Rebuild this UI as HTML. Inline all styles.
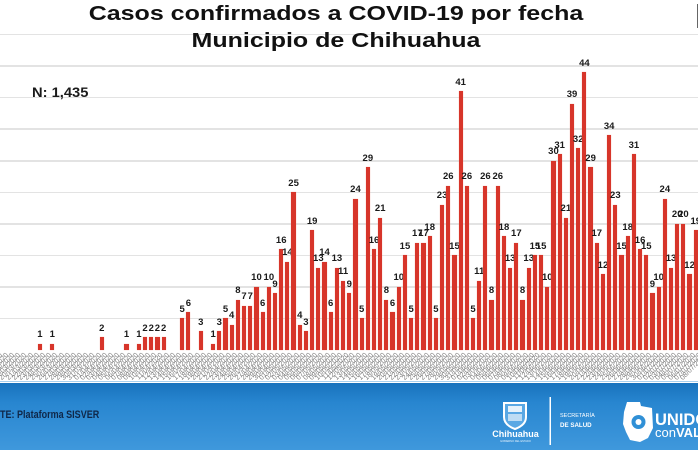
<!DOCTYPE html>
<html><head><meta charset="utf-8">
<style>
html,body{margin:0;padding:0}
body{width:698px;height:450px;overflow:hidden;background:#fff;position:relative;font-family:"Liberation Sans",sans-serif}
.grid{position:absolute;left:0;width:698px;height:1.5px;background:#e3e3e3}
.t{position:absolute;left:0;width:672px;text-align:center;font:bold 20px/20px "Liberation Sans",sans-serif;color:#111;transform:scaleX(1.25);transform-origin:336px 0;white-space:nowrap}
.n{position:absolute;left:31.7px;top:85px;font:bold 14px/14px "Liberation Sans",sans-serif;color:#1a1a1a;transform:scaleX(1.05);transform-origin:0 0;white-space:nowrap}
.bars{position:absolute;left:-6.53px;top:0;height:350px;display:flex;align-items:flex-end}
.c{position:relative;flex:0 0 6.19px;width:6.19px;height:calc(var(--v)*6.31px)}
.c::before{content:"";position:absolute;left:1px;width:4.2px;top:0;bottom:0;background:#d7352a;box-shadow:0 0 0.8px #f09c92}
.c b{position:absolute;bottom:calc(100% + 4px);left:50%;transform:translateX(-50%);font:bold 9.5px/1 "Liberation Sans",sans-serif;color:#1a1a1a;white-space:nowrap}
.c i{position:absolute;top:calc(100% + 2px);right:1px;transform-origin:100% 0;transform:rotate(-45deg);font:normal 7px/1 "Liberation Sans",sans-serif;color:#7a7a7a;font-style:normal;white-space:nowrap}
.foot{position:absolute;left:0;top:383px;width:698px;height:67px;background:linear-gradient(180deg,#1872bd 0%,#2886d0 30%,#3f98dc 100%)}
.fline{position:absolute;left:0;top:380.5px;width:698px;height:1.5px;background:#a9d0ee}
.src{position:absolute;left:0;top:410px;font:bold 11px/11px "Liberation Sans",sans-serif;color:#0f2748;transform:scaleX(0.82);transform-origin:0 0;white-space:nowrap}
</style></head><body>
<div class="grid" style="top:33.8px"></div>
<div class="grid" style="top:65.3px"></div>
<div class="grid" style="top:96.9px"></div>
<div class="grid" style="top:128.4px"></div>
<div class="grid" style="top:160px"></div>
<div class="grid" style="top:191.5px"></div>
<div class="grid" style="top:223.1px"></div>
<div class="grid" style="top:254.6px"></div>
<div class="grid" style="top:286.2px"></div>
<div class="grid" style="top:317.7px"></div>

<div class="t" style="top:4px">Casos confirmados a COVID-19 por fecha</div>
<div class="t" style="top:31px">Municipio de Chihuahua</div>
<div class="n">N: 1,435</div>
<div style="position:absolute;left:696.5px;top:4px;width:1.5px;height:24px;background:#666"></div>

<div class="bars">
<div class="c" style="--v:0"><i>16/03/2020</i></div>
<div class="c" style="--v:0"><i>17/03/2020</i></div>
<div class="c" style="--v:0"><i>18/03/2020</i></div>
<div class="c" style="--v:0"><i>19/03/2020</i></div>
<div class="c" style="--v:0"><i>20/03/2020</i></div>
<div class="c" style="--v:0"><i>21/03/2020</i></div>
<div class="c" style="--v:0"><i>22/03/2020</i></div>
<div class="c" style="--v:1"><b>1</b><i>23/03/2020</i></div>
<div class="c" style="--v:0"><i>24/03/2020</i></div>
<div class="c" style="--v:1"><b>1</b><i>25/03/2020</i></div>
<div class="c" style="--v:0"><i>26/03/2020</i></div>
<div class="c" style="--v:0"><i>27/03/2020</i></div>
<div class="c" style="--v:0"><i>28/03/2020</i></div>
<div class="c" style="--v:0"><i>29/03/2020</i></div>
<div class="c" style="--v:0"><i>30/03/2020</i></div>
<div class="c" style="--v:0"><i>31/03/2020</i></div>
<div class="c" style="--v:0"><i>01/04/2020</i></div>
<div class="c" style="--v:2"><b>2</b><i>02/04/2020</i></div>
<div class="c" style="--v:0"><i>03/04/2020</i></div>
<div class="c" style="--v:0"><i>04/04/2020</i></div>
<div class="c" style="--v:0"><i>05/04/2020</i></div>
<div class="c" style="--v:1"><b>1</b><i>06/04/2020</i></div>
<div class="c" style="--v:0"><i>07/04/2020</i></div>
<div class="c" style="--v:1"><b>1</b><i>08/04/2020</i></div>
<div class="c" style="--v:2"><b>2</b><i>09/04/2020</i></div>
<div class="c" style="--v:2"><b>2</b><i>10/04/2020</i></div>
<div class="c" style="--v:2"><b>2</b><i>11/04/2020</i></div>
<div class="c" style="--v:2"><b>2</b><i>12/04/2020</i></div>
<div class="c" style="--v:0"><i>13/04/2020</i></div>
<div class="c" style="--v:0"><i>14/04/2020</i></div>
<div class="c" style="--v:5"><b>5</b><i>15/04/2020</i></div>
<div class="c" style="--v:6"><b>6</b><i>16/04/2020</i></div>
<div class="c" style="--v:0"><i>17/04/2020</i></div>
<div class="c" style="--v:3"><b>3</b><i>18/04/2020</i></div>
<div class="c" style="--v:0"><i>19/04/2020</i></div>
<div class="c" style="--v:1"><b>1</b><i>20/04/2020</i></div>
<div class="c" style="--v:3"><b>3</b><i>21/04/2020</i></div>
<div class="c" style="--v:5"><b>5</b><i>22/04/2020</i></div>
<div class="c" style="--v:4"><b>4</b><i>23/04/2020</i></div>
<div class="c" style="--v:8"><b>8</b><i>24/04/2020</i></div>
<div class="c" style="--v:7"><b>7</b><i>25/04/2020</i></div>
<div class="c" style="--v:7"><b>7</b><i>26/04/2020</i></div>
<div class="c" style="--v:10"><b>10</b><i>27/04/2020</i></div>
<div class="c" style="--v:6"><b>6</b><i>28/04/2020</i></div>
<div class="c" style="--v:10"><b>10</b><i>29/04/2020</i></div>
<div class="c" style="--v:9"><b>9</b><i>30/04/2020</i></div>
<div class="c" style="--v:16"><b>16</b><i>01/05/2020</i></div>
<div class="c" style="--v:14"><b>14</b><i>02/05/2020</i></div>
<div class="c" style="--v:25"><b>25</b><i>03/05/2020</i></div>
<div class="c" style="--v:4"><b>4</b><i>04/05/2020</i></div>
<div class="c" style="--v:3"><b>3</b><i>05/05/2020</i></div>
<div class="c" style="--v:19"><b>19</b><i>06/05/2020</i></div>
<div class="c" style="--v:13"><b>13</b><i>07/05/2020</i></div>
<div class="c" style="--v:14"><b>14</b><i>08/05/2020</i></div>
<div class="c" style="--v:6"><b>6</b><i>09/05/2020</i></div>
<div class="c" style="--v:13"><b>13</b><i>10/05/2020</i></div>
<div class="c" style="--v:11"><b>11</b><i>11/05/2020</i></div>
<div class="c" style="--v:9"><b>9</b><i>12/05/2020</i></div>
<div class="c" style="--v:24"><b>24</b><i>13/05/2020</i></div>
<div class="c" style="--v:5"><b>5</b><i>14/05/2020</i></div>
<div class="c" style="--v:29"><b>29</b><i>15/05/2020</i></div>
<div class="c" style="--v:16"><b>16</b><i>16/05/2020</i></div>
<div class="c" style="--v:21"><b>21</b><i>17/05/2020</i></div>
<div class="c" style="--v:8"><b>8</b><i>18/05/2020</i></div>
<div class="c" style="--v:6"><b>6</b><i>19/05/2020</i></div>
<div class="c" style="--v:10"><b>10</b><i>20/05/2020</i></div>
<div class="c" style="--v:15"><b>15</b><i>21/05/2020</i></div>
<div class="c" style="--v:5"><b>5</b><i>22/05/2020</i></div>
<div class="c" style="--v:17"><b>17</b><i>23/05/2020</i></div>
<div class="c" style="--v:17"><b>17</b><i>24/05/2020</i></div>
<div class="c" style="--v:18"><b>18</b><i>25/05/2020</i></div>
<div class="c" style="--v:5"><b>5</b><i>26/05/2020</i></div>
<div class="c" style="--v:23"><b>23</b><i>27/05/2020</i></div>
<div class="c" style="--v:26"><b>26</b><i>28/05/2020</i></div>
<div class="c" style="--v:15"><b>15</b><i>29/05/2020</i></div>
<div class="c" style="--v:41"><b>41</b><i>30/05/2020</i></div>
<div class="c" style="--v:26"><b>26</b><i>31/05/2020</i></div>
<div class="c" style="--v:5"><b>5</b><i>01/06/2020</i></div>
<div class="c" style="--v:11"><b>11</b><i>02/06/2020</i></div>
<div class="c" style="--v:26"><b>26</b><i>03/06/2020</i></div>
<div class="c" style="--v:8"><b>8</b><i>04/06/2020</i></div>
<div class="c" style="--v:26"><b>26</b><i>05/06/2020</i></div>
<div class="c" style="--v:18"><b>18</b><i>06/06/2020</i></div>
<div class="c" style="--v:13"><b>13</b><i>07/06/2020</i></div>
<div class="c" style="--v:17"><b>17</b><i>08/06/2020</i></div>
<div class="c" style="--v:8"><b>8</b><i>09/06/2020</i></div>
<div class="c" style="--v:13"><b>13</b><i>10/06/2020</i></div>
<div class="c" style="--v:15"><b>15</b><i>11/06/2020</i></div>
<div class="c" style="--v:15"><b>15</b><i>12/06/2020</i></div>
<div class="c" style="--v:10"><b>10</b><i>13/06/2020</i></div>
<div class="c" style="--v:30"><b>30</b><i>14/06/2020</i></div>
<div class="c" style="--v:31"><b>31</b><i>15/06/2020</i></div>
<div class="c" style="--v:21"><b>21</b><i>16/06/2020</i></div>
<div class="c" style="--v:39"><b>39</b><i>17/06/2020</i></div>
<div class="c" style="--v:32"><b>32</b><i>18/06/2020</i></div>
<div class="c" style="--v:44"><b>44</b><i>19/06/2020</i></div>
<div class="c" style="--v:29"><b>29</b><i>20/06/2020</i></div>
<div class="c" style="--v:17"><b>17</b><i>21/06/2020</i></div>
<div class="c" style="--v:12"><b>12</b><i>22/06/2020</i></div>
<div class="c" style="--v:34"><b>34</b><i>23/06/2020</i></div>
<div class="c" style="--v:23"><b>23</b><i>24/06/2020</i></div>
<div class="c" style="--v:15"><b>15</b><i>25/06/2020</i></div>
<div class="c" style="--v:18"><b>18</b><i>26/06/2020</i></div>
<div class="c" style="--v:31"><b>31</b><i>27/06/2020</i></div>
<div class="c" style="--v:16"><b>16</b><i>28/06/2020</i></div>
<div class="c" style="--v:15"><b>15</b><i>29/06/2020</i></div>
<div class="c" style="--v:9"><b>9</b><i>30/06/2020</i></div>
<div class="c" style="--v:10"><b>10</b><i>01/07/2020</i></div>
<div class="c" style="--v:24"><b>24</b><i>02/07/2020</i></div>
<div class="c" style="--v:13"><b>13</b><i>03/07/2020</i></div>
<div class="c" style="--v:20"><b>20</b><i>04/07/2020</i></div>
<div class="c" style="--v:20"><b>20</b><i>05/07/2020</i></div>
<div class="c" style="--v:12"><b>12</b><i>06/07/2020</i></div>
<div class="c" style="--v:19"><b>19</b><i>07/07/2020</i></div>
<div class="c" style="--v:0"><i>08/07/2020</i></div>
</div>

<div class="fline"></div>
<div class="foot"></div>
<div class="src">TE: Plataforma SISVER</div>

<svg style="position:absolute;left:0;top:0" width="698" height="450" viewBox="0 0 698 450">
  <path d="M504 403 L526 403 L526 417 Q526 425 515 429 Q504 425 504 417 Z" fill="#5aa8e4" stroke="#fff" stroke-width="2"/>
  <rect x="508" y="406" width="14" height="6" fill="#fff" opacity="0.85"/>
  <rect x="508" y="414" width="14" height="7" fill="#fff" opacity="0.6"/>
  <text x="515.5" y="437" text-anchor="middle" font-family="Liberation Sans, sans-serif" font-weight="bold" font-size="9" fill="#fff">Chihuahua</text>
  <text x="515.5" y="442" text-anchor="middle" font-family="Liberation Sans, sans-serif" font-size="2.6" fill="#e6f2fc">GOBIERNO DEL ESTADO</text>
  <rect x="549.5" y="397" width="1.5" height="48" fill="#fff"/>
  <text x="560" y="417" font-family="Liberation Sans, sans-serif" font-size="5.5" fill="#fff">SECRETARÍA</text>
  <text x="560" y="427" font-family="Liberation Sans, sans-serif" font-weight="bold" font-size="6.2" fill="#fff">DE SALUD</text>
  <path d="M627 402 L640 402 L641 406 L652 408 L653 428 L648 438 L640 442 L630 440 L626 432 L623 424 L624 412 Z" fill="#fff"/>
  <circle cx="638.5" cy="422" r="7" fill="#3090d6"/>
  <circle cx="638.5" cy="422" r="3" fill="#fff"/>
  <text x="655" y="425" font-family="Liberation Sans, sans-serif" font-weight="bold" font-size="16.5" fill="#fff">UNIDOS</text>
  <text x="655" y="437" font-family="Liberation Sans, sans-serif" font-size="13" fill="#fff">con<tspan font-weight="bold">VALOR</tspan></text>
</svg>
</body></html>
